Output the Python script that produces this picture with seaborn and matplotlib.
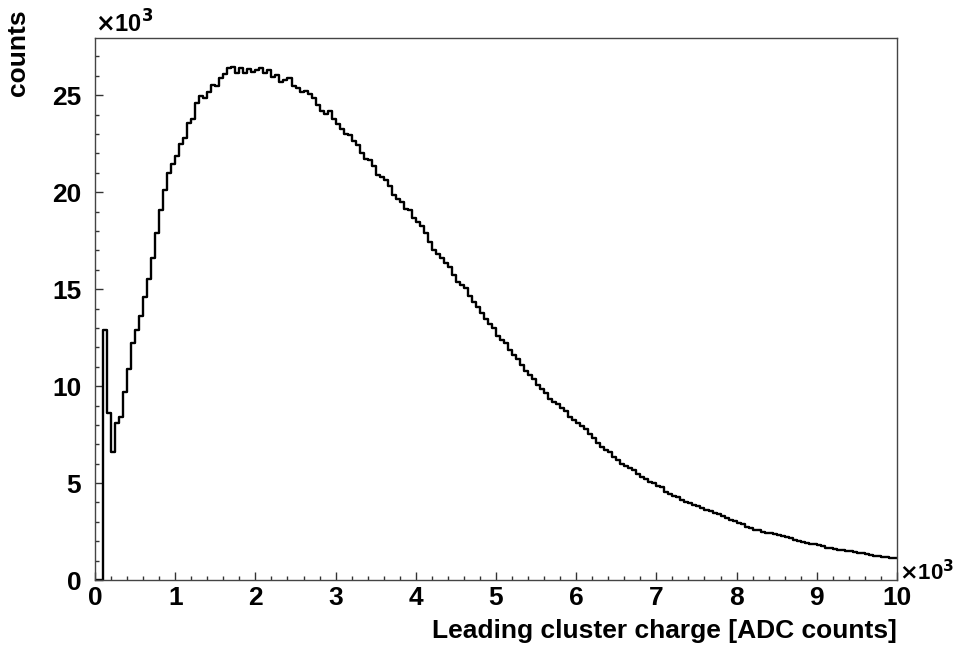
import numpy as np
import pandas as pd
import matplotlib
matplotlib.use("Agg")
import matplotlib.pyplot as plt
import seaborn as sns
from matplotlib.ticker import MultipleLocator, FuncFormatter

# ---- data ----
bin_width = 50  # ADC counts per bin
counts = [
    0, 0, 12900, 8600, 6600, 8100, 8400, 9700, 10900, 12200,
    12900, 13600, 14600, 15500, 16600, 17900, 19100, 20100, 21000, 21450,
    21850, 22500, 22800, 23550, 23750, 24600, 24950, 24850, 25150, 25550,
    25500, 25900, 26100, 26400, 26450, 26150, 26400, 26150, 26350, 26200,
    26300, 26400, 26150, 26300, 25950, 26050, 25700, 25800, 25900, 25500,
    25350, 25150, 25200, 25050, 24850, 24500, 24200, 24050, 24200, 23750,
    23500, 23250, 23000, 22950, 22650, 22450, 22000, 21700, 21650, 21350,
    20900, 20800, 20650, 20300, 19850, 19650, 19500, 19150, 19100, 18650,
    18450, 18250, 17900, 17450, 17000, 16800, 16600, 16350, 16150, 15750,
    15350, 15200, 15050, 14650, 14350, 14100, 13750, 13450, 13200, 13000,
    12600, 12400, 12200, 11850, 11600, 11400, 11100, 10800, 10550, 10350,
    10050, 9850, 9650, 9350, 9200, 9100, 8850, 8700, 8400, 8250,
    8100, 7950, 7800, 7550, 7350, 7050, 6880, 6700, 6600, 6350,
    6200, 6000, 5900, 5780, 5650, 5450, 5300, 5200, 5080, 4980,
    4850, 4780, 4550, 4450, 4350, 4280, 4150, 4050, 3980, 3880,
    3800, 3700, 3620, 3560, 3480, 3420, 3300, 3200, 3120, 3050,
    2950, 2880, 2750, 2680, 2600, 2560, 2500, 2450, 2420, 2350,
    2300, 2250, 2200, 2150, 2060, 2030, 1980, 1920, 1880, 1840,
    1800, 1730, 1660, 1630, 1590, 1560, 1540, 1500, 1480, 1450,
    1420, 1380, 1340, 1300, 1260, 1220, 1200, 1180, 1150, 1120,
]
x_label = "Leading cluster charge [ADC counts]"
y_label = "counts"

n_bins = len(counts)
x_max = n_bins * bin_width
centers = np.arange(n_bins) * bin_width + bin_width / 2
df = pd.DataFrame({"charge": centers, "counts": counts})

sns.set_theme(style="white")
plt.rcParams["font.family"] = ["Liberation Sans", "DejaVu Sans"]
plt.rcParams["font.weight"] = "bold"
plt.rcParams["text.color"] = "black"
plt.rcParams["xtick.color"] = "black"
plt.rcParams["ytick.color"] = "black"

FS = 19

fig = plt.figure(figsize=(9.59, 6.51), dpi=100)
ax = fig.add_axes([0.0991, 0.109, 0.8362, 0.8326])

sns.histplot(data=df, x="charge", weights="counts", bins=n_bins,
             binrange=(0, x_max), element="step", fill=False,
             color="black", linewidth=1.7, ax=ax)

ax.set_xlim(0, 10000)
ax.set_ylim(0, 27950)

ax.xaxis.set_major_locator(MultipleLocator(1000))
ax.xaxis.set_minor_locator(MultipleLocator(200))
ax.yaxis.set_major_locator(MultipleLocator(5000))
ax.yaxis.set_minor_locator(MultipleLocator(1000))
fmt = FuncFormatter(lambda v, p: f"{v/1000:g}")
ax.xaxis.set_major_formatter(fmt)
ax.yaxis.set_major_formatter(fmt)

ax.tick_params(axis="both", which="major", direction="in", length=6, width=1,
               labelsize=FS, color="#333333", labelcolor="black",
               bottom=True, left=True)
ax.tick_params(axis="both", which="minor", direction="in", length=3, width=1,
               color="#333333", bottom=True, left=True)
ax.tick_params(axis="y", which="major", pad=10)
ax.tick_params(axis="x", which="major", pad=4)
for lab in ax.get_xticklabels() + ax.get_yticklabels():
    lab.set_fontweight("bold")

for s in ax.spines.values():
    s.set_color("#444444")
    s.set_linewidth(1.0)

ax.set_xlabel("")
ax.set_ylabel("")
fig.text(0.9353, 0.030, x_label, ha="right", va="center",
         fontsize=FS, fontweight="bold", color="black")
fig.text(0.019, 0.985, y_label, ha="center", va="top", rotation=90,
         fontsize=FS, fontweight="bold", color="black")
fig.text(0.099, 0.963, r"$\times$10$^{3}$", ha="left", va="center",
         fontsize=17, fontweight="bold", color="black")
fig.text(0.937, 0.121, r"$\times$10$^{3}$", ha="left", va="center",
         fontsize=16, fontweight="bold", color="black")

fig.savefig("out.png", dpi=100)
